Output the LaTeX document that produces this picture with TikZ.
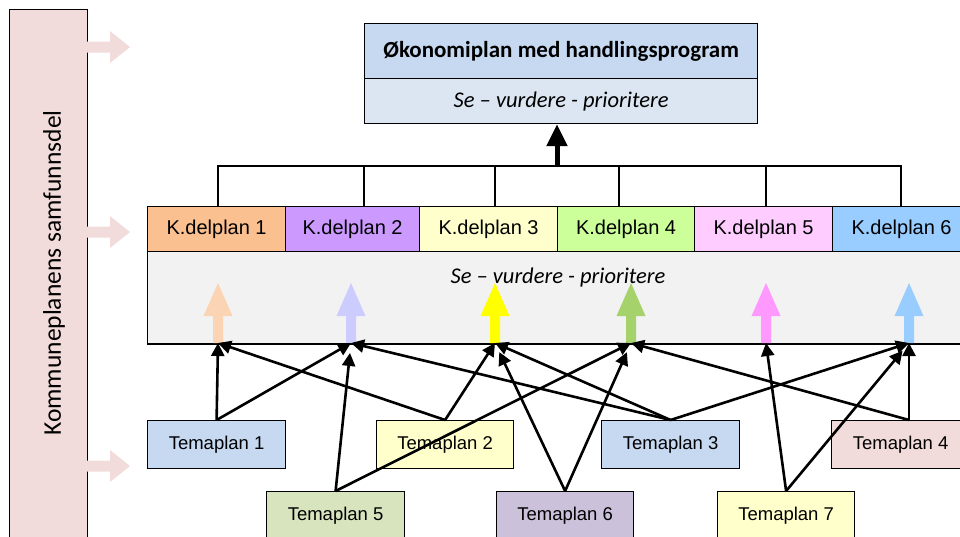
\documentclass[tikz,border=0pt]{standalone}
\usepackage{fontspec}
\setmainfont{Liberation Sans}
\newfontfamily\calfont{Carlito}
\usetikzlibrary{arrows.meta}
\definecolor{barpink}{HTML}{F2DCDB}
\definecolor{hdrblue}{HTML}{C6D9F1}
\definecolor{subblue}{HTML}{DCE6F2}
\definecolor{graybg}{HTML}{F2F2F2}
\definecolor{dpA}{HTML}{FAC090}
\definecolor{dpB}{HTML}{CC99FF}
\definecolor{dpC}{HTML}{FFFFCC}
\definecolor{dpD}{HTML}{CCFF99}
\definecolor{dpE}{HTML}{FFCCFF}
\definecolor{dpF}{HTML}{99CCFF}
\definecolor{tpblue}{HTML}{C6D9F1}
\definecolor{tpyellow}{HTML}{FFFFCC}
\definecolor{tppink}{HTML}{F2DCDB}
\definecolor{tpgreen}{HTML}{D7E4BD}
\definecolor{tpviolet}{HTML}{CCC1DA}
\definecolor{arA}{HTML}{FBD4B4}
\definecolor{arB}{HTML}{CCCCFF}
\definecolor{arC}{HTML}{FFFF00}
\definecolor{arD}{HTML}{A6D26C}
\definecolor{arE}{HTML}{FF99FF}
\definecolor{arF}{HTML}{99CCFF}
\begin{document}
\begin{tikzpicture}[x=1pt,y=-1pt,
  frame/.style={draw=black, line width=1.2pt, rectangle, inner sep=0pt, anchor=north west},
  dpbox/.style={frame, minimum height=45pt, font=\fontsize{20}{22}\selectfont},
  tpbox/.style={frame, minimum width=138pt, minimum height=48pt, font=\fontsize{18.5}{20}\selectfont},
  conn/.style={-{Triangle[length=13pt,width=13pt]}, line width=2.6pt},
  shortconn/.style={conn, shorten >=10pt},
  bus/.style={line width=2.4pt},
  pinkarrow/.style={fill=barpink, draw=none}
]
\useasboundingbox (0,0) rectangle (960,536);
\clip (0,0) rectangle (960,536);

% left bar
\node[frame, fill=barpink, minimum width=78pt, minimum height=540pt] (bar) at (9,9) {};
\node[rotate=90, font=\calfont\fontsize{25.5}{28}\selectfont] (bartext) at (54,273) {Kommuneplanens samfunnsdel};

% pink arrows
\foreach \yy in {47,232,466}{
  \fill[pinkarrow] (87,\yy-5.5) -- (110,\yy-5.5) -- (110,\yy-16) -- (130,\yy) -- (110,\yy+16) -- (110,\yy+5.5) -- (87,\yy+5.5) -- cycle;
}

% top box
\node[frame, fill=hdrblue, minimum width=393pt, minimum height=55pt, font=\calfont\bfseries\fontsize{23}{25}\selectfont] (oko) at (364,23) {Økonomiplan med handlingsprogram};
\node[frame, fill=subblue, minimum width=393pt, minimum height=45pt, font=\calfont\itshape\fontsize{22.5}{25}\selectfont] (okosub) at (364,78) {Se – vurdere - prioritere};

% gray box
\node[frame, fill=graybg, minimum width=823pt, minimum height=92pt] (gray) at (147,251) {};
\node[font=\calfont\itshape\fontsize{22.5}{25}\selectfont] (graytext) at (558,277) {Se – vurdere - prioritere};

% delplan row
\node[dpbox, fill=dpA, minimum width=138pt] (d1) at (147,206) {K.delplan 1};
\node[dpbox, fill=dpB, minimum width=134pt] (d2) at (285,206) {K.delplan 2};
\node[dpbox, fill=dpC, minimum width=138pt] (d3) at (419,206) {K.delplan 3};
\node[dpbox, fill=dpD, minimum width=137pt] (d4) at (557,206) {K.delplan 4};
\node[dpbox, fill=dpE, minimum width=138pt] (d5) at (694,206) {K.delplan 5};
\node[dpbox, fill=dpF, minimum width=138pt] (d6) at (832,206) {K.delplan 6};

% bus to top
\coordinate (b1) at (218,166);
\coordinate (b2) at (364,166);
\coordinate (b3) at (495,166);
\coordinate (b4) at (619,166);
\coordinate (b5) at (766,166);
\coordinate (b6) at (901,166);
\coordinate (bm) at (557,166);
\draw[bus] (b1 |- d1.north) -- (b1) -- (b6) -- (b6 |- d6.north);
\foreach \b/\d in {b2/d2,b3/d3,b4/d4,b5/d5}{ \draw[bus] (\b) -- (\b |- \d.north); }
\draw[line width=5pt, -{Triangle[length=22pt,width=20pt]}] (bm) -- (bm |- okosub.south);

% coloured arrows in gray box
\coordinate (A1) at (218,343);
\coordinate (A2) at (351,343);
\coordinate (A3) at (495,343);
\coordinate (A4) at (631,343);
\coordinate (A5) at (766,343);
\coordinate (A6) at (909,343);
\foreach \a/\c in {A1/arA,A2/arB,A3/arC,A4/arD,A5/arE,A6/arF}{
  \fill[\c] ([xshift=-5pt]\a) -- ++(0,-27) -- ++(-9.5,0) -- ++(14.5,-33) -- ++(14.5,33) -- ++(-9.5,0) -- ++(0,27) -- cycle;
}
\draw[line width=1.2pt] (gray.south west) -- (gray.south east);

% temaplan boxes
\node[tpbox, fill=tpblue] (t1) at (147,420) {Temaplan 1};
\node[tpbox, fill=tpyellow, minimum width=137pt] (t2) at (376,420) {Temaplan 2};
\node[tpbox, fill=tpblue] (t3) at (601,420) {Temaplan 3};
\node[tpbox, fill=tppink] (t4) at (831,420) {Temaplan 4};
\node[tpbox, fill=tpgreen] (t5) at (266,491) {Temaplan 5};
\node[tpbox, fill=tpviolet, minimum width=137pt] (t6) at (496,491) {Temaplan 6};
\node[tpbox, fill=tpyellow, minimum width=137pt] (t7) at (717,491) {Temaplan 7};
\coordinate (t4s) at (909,420);

% connectors
\draw[conn] (t1.north) -- (A1);
\draw[conn] (t1.north) -- (A2);
\draw[conn] (t2.north) -- (A1);
\draw[conn] (t2.north) -- (A3);
\draw[conn] (t3.north) -- (A2);
\draw[conn] (t3.north) -- (A3);
\draw[conn] (t3.north) -- (A6);
\draw[conn] (t4s) -- (A4);
\draw[conn] (t4s) -- (A6);
\draw[shortconn] (t5.north) -- (A2);
\draw[conn] (t5.north) -- (A4);
\draw[shortconn] (t6.north) -- (A3);
\draw[shortconn] (t6.north) -- (A4);
\draw[conn] (t7.north) -- (A5);
\draw[shortconn] (t7.north) -- (A6);
\end{tikzpicture}
\end{document}
